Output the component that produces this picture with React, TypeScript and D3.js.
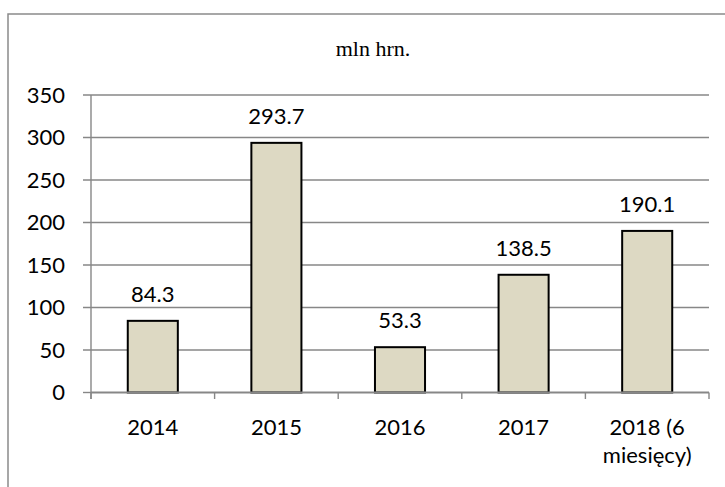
import React from "react";
import * as d3 from "d3";

const categories: string[][] = [["2014"], ["2015"], ["2016"], ["2017"], ["2018 (6", "miesięcy)"]];
const values: number[] = [84.3, 293.7, 53.3, 138.5, 190.1];
const valueLabels: string[] = ["84.3", "293.7", "53.3", "138.5", "190.1"];
const yTicks: number[] = [0, 50, 100, 150, 200, 250, 300, 350];
const title = "mln hrn.";

const W = 725;
const H = 487;
const FONT = "Lato, 'Open Sans', sans-serif";

export default function App() {
  const keys = categories.map((c) => c.join(" "));
  const x = d3.scaleBand<string>().domain(keys).range([91, 709]).paddingInner(0.595).paddingOuter(0.2975);
  const y = d3.scaleLinear().domain([0, 350]).range([392.5, 95]);
  const step = x.step();
  const grid = "#878787";
  const boundaries = d3.range(keys.length + 1).map((i) => 91 + i * step);

  return (
    <svg width={W} height={H} style={{ position: "absolute", left: 0, top: 0, background: "#fff" }}>
      <rect x={8} y={14} width={740} height={500} fill="#fff" stroke="#8a8a8a" strokeWidth={1.5} />
      <text x={373} y={56} textAnchor="middle" fontFamily="'Liberation Serif', 'Times New Roman', serif" fontSize={22} fill="#000">
        {title}
      </text>
      {yTicks.map((t) => (
        <g key={t}>
          {t > 0 && <line x1={83} x2={709} y1={y(t)} y2={y(t)} stroke={grid} strokeWidth={1.4} />}
          {t === 0 && <line x1={83} x2={91} y1={y(t)} y2={y(t)} stroke={grid} strokeWidth={1.4} />}
          <text x={65} y={y(t)} dy="0.36em" textAnchor="end" fontFamily={FONT} fontSize={22} fill="#000">
            {t}
          </text>
        </g>
      ))}
      <line x1={91} x2={91} y1={y(350)} y2={399} stroke={grid} strokeWidth={1.4} />
      {keys.map((k, i) => (
        <g key={k}>
          <rect
            x={x(k)!}
            y={y(values[i])}
            width={x.bandwidth()}
            height={y(0) - y(values[i])}
            fill="#ddd9c3"
            stroke="#000"
            strokeWidth={2}
          />
          <text x={x(k)! + x.bandwidth() / 2} y={y(values[i]) - 19} textAnchor="middle" fontFamily={FONT} fontSize={22} fill="#000">
            {valueLabels[i]}
          </text>
          {categories[i].map((line, j) => (
            <text key={j} x={x(k)! + x.bandwidth() / 2} y={435 + j * 28} textAnchor="middle" fontFamily={FONT} fontSize={22} fill="#000">
              {line}
            </text>
          ))}
        </g>
      ))}
      <line x1={91} x2={709} y1={y(0)} y2={y(0)} stroke={grid} strokeWidth={2} />
      {boundaries.map((b, i) => (
        <line key={i} x1={b} x2={b} y1={y(0)} y2={399} stroke={grid} strokeWidth={1.4} />
      ))}
    </svg>
  );
}
